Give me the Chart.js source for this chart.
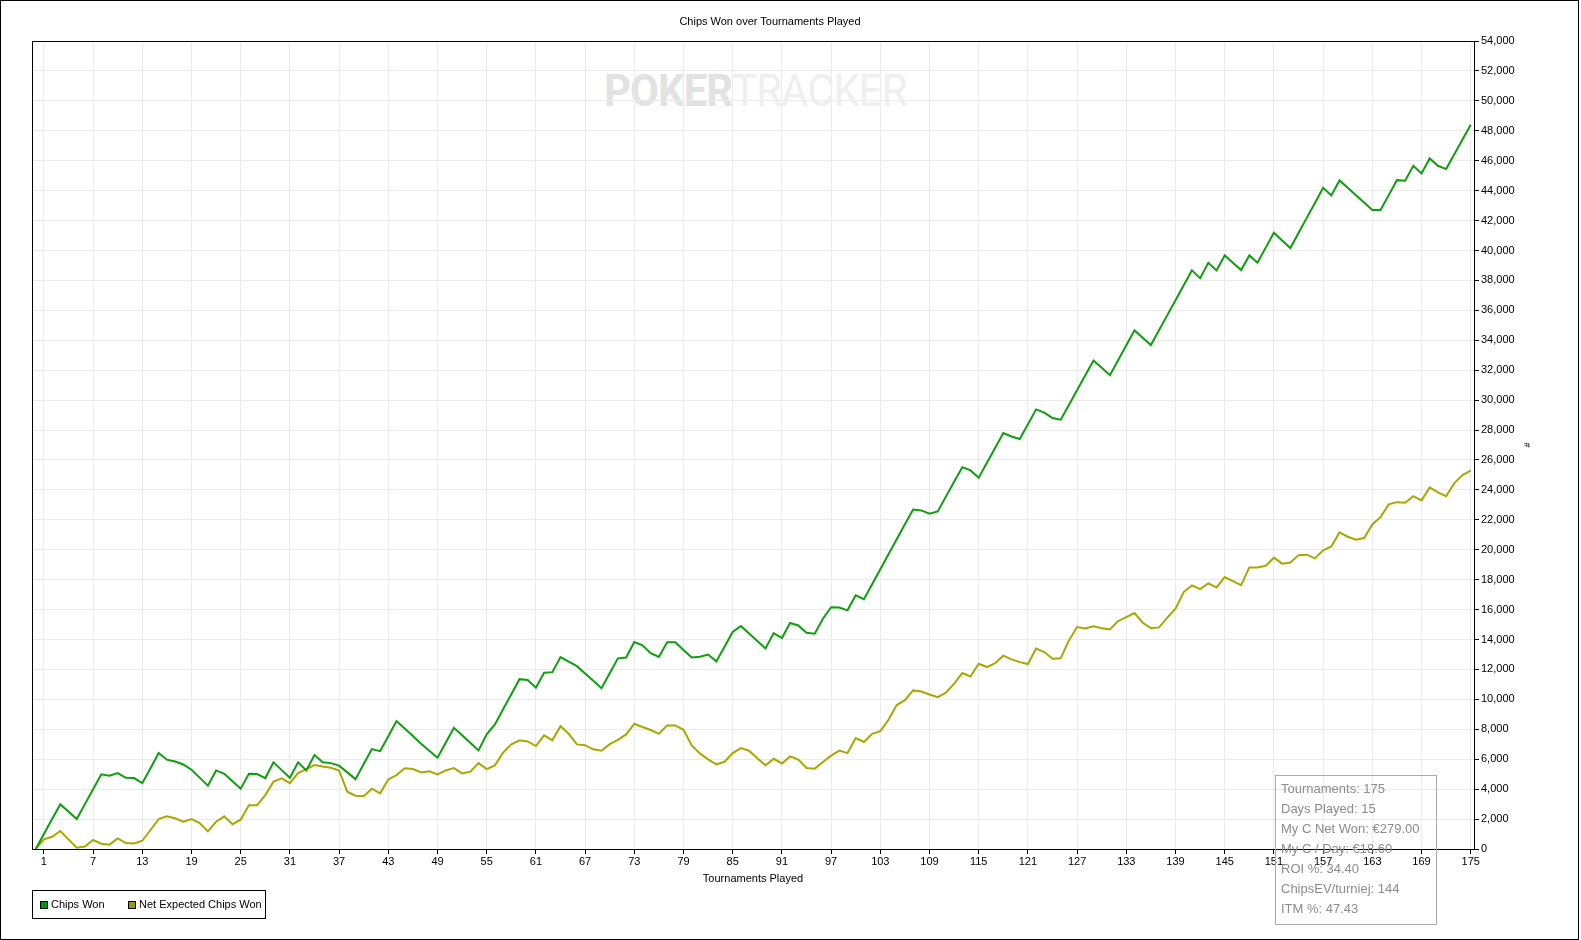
<!DOCTYPE html>
<html>
<head>
<meta charset="utf-8">
<title>Chips Won over Tournaments Played</title>
<script src="https://cdn.jsdelivr.net/npm/chart.js@4.4.1/dist/chart.umd.min.js"></script>
<style>
  html, body { margin: 0; padding: 0; background: #fff; }
  #wrap { position: relative; width: 1581px; height: 940px; overflow: hidden; font-family: 'Liberation Sans', Arial, sans-serif; }
  #frame { position: absolute; left: 0; top: 0; width: 1579px; height: 940px; border: 1px solid #000; box-sizing: border-box; pointer-events: none; z-index: 5; }
  #chart { position: absolute; left: 0; top: 0; z-index: 2; }
  #title { position: absolute; left: 570px; width: 400px; top: 15px; text-align: center; font-size: 11px; color: #000; z-index: 3; }
  #watermark { position: absolute; left: 604px; top: 64px; font-family: Roboto, 'Liberation Sans', sans-serif; font-size: 45px; letter-spacing: -1px; z-index: 1; white-space: nowrap; transform: scaleX(0.93); transform-origin: left top; }
  #watermark .poker { color: #e2e2e2; font-weight: bold; }
  #watermark .tracker { color: #efefef; }
  #legend { position: absolute; left: 32px; top: 890px; width: 234px; height: 29px; border: 1px solid #000; box-sizing: border-box; font-size: 11px; z-index: 3; }
  #legend .item { position: absolute; top: 7px; line-height: 13px; white-space: nowrap; }
  #legend .sw { display: inline-block; width: 8px; height: 8px; border: 1px solid #000; box-sizing: border-box; margin-right: 3px; vertical-align: -1px; }
  #stats { position: absolute; left: 1275px; top: 775px; width: 162px; height: 150px; border: 1px solid #aaa; box-sizing: border-box; padding: 3px 0 0 5px; font-size: 13px; line-height: 20px; color: #8c8c8c; z-index: 3; }
</style>
</head>
<body>
<div id="wrap">
  <div id="watermark"><span class="poker">POKER</span><span class="tracker">TRACKER</span></div>
  <canvas id="chart" width="1581" height="940"></canvas>
  <div id="title">Chips Won over Tournaments Played</div>
  <div id="legend">
    <div class="item" style="left:7px"><span class="sw" style="background:#009900"></span>Chips Won</div>
    <div class="item" style="left:95px"><span class="sw" style="background:#999900"></span>Net Expected Chips Won</div>
  </div>
  <div id="stats">
    <div>Tournaments: 175</div>
    <div>Days Played: 15</div>
    <div>My C Net Won: €279.00</div>
    <div>My C / Day: €18.60</div>
    <div>ROI %: 34.40</div>
    <div>ChipsEV/turniej: 144</div>
    <div>ITM %: 47.43</div>
  </div>
  <div id="frame"></div>
</div>
<script>
// valeurs, tournoi 0 a 175
const chipsWon = [
  0, 1000, 2000, 2980, 2500, 2000, 3000, 4000, 4990, 4900,
  5070, 4760, 4740, 4400, 5400, 6410, 5970, 5850, 5650, 5300,
  4770, 4230, 5250, 5030, 4530, 4030, 5030, 5010, 4740, 5790,
  5270, 4760, 5790, 5250, 6280, 5790, 5740, 5570, 5120, 4670,
  5680, 6680, 6540, 7540, 8550, 8050, 7550, 7040, 6570, 6100,
  7100, 8100, 7600, 7100, 6590, 7660, 8330, 9340, 10340, 11350,
  11290, 10780, 11780, 11820, 12830, 12520, 12220, 11730, 11240, 10750,
  11750, 12740, 12800, 13830, 13610, 13090, 12830, 13810, 13810, 13300,
  12800, 12850, 13000, 12540, 13520, 14500, 14900, 14400, 13900, 13400,
  14430, 14100, 15100, 14940, 14450, 14390, 15390, 16160, 16140, 15950,
  16950, 16700, 17700, 18700, 19700, 20700, 21700, 22690, 22630, 22410,
  22560, 23550, 24540, 25520, 25300, 24810, 25810, 26800, 27800, 27570,
  27400, 28390, 29380, 29160, 28800, 28690, 29680, 30670, 31660, 32650,
  32160, 31670, 32670, 33660, 34660, 34170, 33680, 34680, 35680, 36670,
  37670, 38670, 38150, 39180, 38670, 39670, 39180, 38690, 39670, 39180,
  40190, 41190, 40670, 40160, 41170, 42180, 43180, 44190, 43680, 44680,
  44190, 43690, 43200, 42700, 42700, 43700, 44700, 44660, 45660, 45150,
  46150, 45660, 45440, 46430, 47410, 48400
];

const netExpectedChipsWon = [
  0, 640, 820, 1200, 645, 90, 170, 600, 350, 290,
  710, 400, 370, 550, 1270, 2000, 2180, 2050, 1820, 2000,
  1730, 1180, 1820, 2180, 1660, 1960, 2930, 2930, 3600, 4500,
  4720, 4400, 5070, 5340, 5610, 5520, 5430, 5250, 3830, 3560,
  3520, 4030, 3720, 4650, 4940, 5400, 5340, 5110, 5190, 4990,
  5250, 5410, 5050, 5170, 5740, 5340, 5590, 6440, 6990, 7260,
  7190, 6880, 7590, 7260, 8210, 7700, 6990, 6940, 6660, 6570,
  7010, 7300, 7660, 8370, 8150, 7950, 7700, 8260, 8260, 7970,
  6920, 6390, 5990, 5650, 5830, 6410, 6740, 6570, 6070, 5590,
  6030, 5720, 6190, 5970, 5410, 5370, 5810, 6240, 6580, 6410,
  7410, 7150, 7700, 7880, 8640, 9620, 9950, 10600, 10530, 10330,
  10150, 10450, 11050, 11760, 11530, 12380, 12160, 12420, 12920, 12670,
  12490, 12360, 13390, 13160, 12720, 12740, 13940, 14830, 14740, 14880,
  14760, 14680, 15230, 15500, 15770, 15120, 14760, 14810, 15460, 16060,
  17170, 17620, 17370, 17750, 17480, 18170, 17900, 17640, 18820, 18820,
  18930, 19470, 19070, 19150, 19640, 19670, 19420, 19960, 20220, 21160,
  20870, 20670, 20780, 21690, 22180, 23030, 23180, 23140, 23580, 23300,
  24170, 23830, 23580, 24450, 24990, 25280
];

const xTicks = [1, 7, 13, 19, 25, 31, 37, 43, 49, 55, 61, 67, 73, 79, 85,
  91, 97, 103, 109, 115, 121, 127, 133, 139, 145, 151, 157, 163, 169, 175];

const yMin = 0;
const yMax = 54000;
const yStep = 2000;

const police = "'Liberation Sans', Arial, sans-serif";

// cadre noir autour de la zone du graphique
const cadre = {
  id: 'cadre',
  afterDraw(c) {
    const a = c.chartArea;
    const ctx = c.ctx;
    ctx.save();
    ctx.strokeStyle = '#000';
    ctx.lineWidth = 1;
    ctx.strokeRect(Math.round(a.left) + 0.5, Math.round(a.top) + 0.5,
      Math.round(a.right) - Math.round(a.left), Math.round(a.bottom) - Math.round(a.top));
    ctx.restore();
  }
};

const serie = (vals) => vals.map((v, i) => ({ x: i, y: v }));

new Chart(document.getElementById('chart'), {
  type: 'line',
  data: {
    datasets: [{
      label: 'Chips Won',
      data: serie(chipsWon),
      borderColor: '#0ca00c',
      borderWidth: 2,
      pointRadius: 0,
      tension: 0,
      fill: false
    }, {
      label: 'Net Expected Chips Won',
      data: serie(netExpectedChipsWon),
      borderColor: '#a8a800',
      borderWidth: 2,
      pointRadius: 0,
      tension: 0,
      fill: false
    }]
  },
  options: {
    responsive: false,
    animation: false,
    devicePixelRatio: 1,
    layout: { padding: { left: 32, top: 41, right: 49, bottom: 51 } },
    plugins: {
      legend: { display: false },
      title: { display: false },
      tooltip: { enabled: false }
    },
    scales: {
      x: {
        type: 'linear',
        min: -0.45,
        max: 175.4,
        afterBuildTicks: (s) => { s.ticks = xTicks.map(v => ({ value: v })); },
        afterFit: (s) => { s.height = 40; },
        grid: { color: '#ebebeb', tickColor: '#000', tickLength: 5 },
        border: { color: '#000' },
        ticks: { color: '#000', font: { size: 11, family: police }, padding: 1, maxRotation: 0, autoSkip: false },
        title: { display: true, text: 'Tournaments Played', color: '#000', font: { size: 11, family: police }, padding: { top: 0, bottom: 3 } }
      },
      y: {
        position: 'right',
        min: yMin,
        max: yMax,
        afterFit: (s) => { s.width = 58; },
        grid: { color: '#ebebeb', tickColor: '#000', tickLength: 5 },
        border: { color: '#000' },
        ticks: { stepSize: yStep, color: '#000', font: { size: 11, family: police }, padding: 2 },
        title: { display: true, text: '#', color: '#000', font: { size: 9, family: police }, padding: 0 }
      }
    }
  },
  plugins: [cadre]
});
</script>
</body>
</html>
